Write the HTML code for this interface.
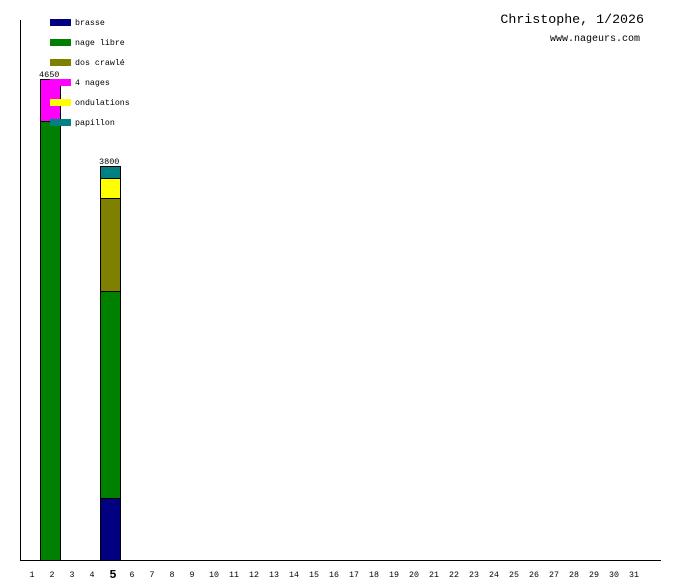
<!DOCTYPE html>
<html><head><style>body{margin:0;background:#fff}svg{display:block}text{font-family:"Liberation Mono",monospace;fill:#000}</style></head>
<body>
<svg width="680" height="580" xmlns="http://www.w3.org/2000/svg">
<rect width="680" height="580" fill="#fff"/>
<line x1="20.5" y1="20" x2="20.5" y2="561" stroke="#000"/>
<line x1="20" y1="560.5" x2="661" y2="560.5" stroke="#000"/>
<!-- bar day 2 -->
<rect x="40.5" y="79.5" width="20" height="42" fill="#ff00ff" stroke="#000"/>
<rect x="40.5" y="121.5" width="20" height="439" fill="#008000" stroke="#000"/>
<!-- bar day 5 -->
<rect x="100.5" y="166.5" width="20" height="12" fill="#008080" stroke="#000"/>
<rect x="100.5" y="178.5" width="20" height="20" fill="#ffff00" stroke="#000"/>
<rect x="100.5" y="198.5" width="20" height="93" fill="#808000" stroke="#000"/>
<rect x="100.5" y="291.5" width="20" height="207" fill="#008000" stroke="#000"/>
<rect x="100.5" y="498.5" width="20" height="62" fill="#000080" stroke="#000"/>
<g font-size="8.5">
<text x="39" y="77">4650</text>
<text x="99" y="164">3800</text>
</g>
<!-- legend -->
<g font-size="8.3">
<rect x="50" y="19" width="21" height="7" fill="#000080"/><text x="75" y="25">brasse</text>
<rect x="50" y="39" width="21" height="7" fill="#008000"/><text x="75" y="45">nage libre</text>
<rect x="50" y="59" width="21" height="7" fill="#808000"/><text x="75" y="65">dos crawlé</text>
<rect x="50" y="79" width="21" height="7" fill="#ff00ff"/><text x="75" y="85">4 nages</text>
<rect x="50" y="99" width="21" height="7" fill="#ffff00"/><text x="75" y="105">ondulations</text>
<rect x="50" y="119" width="21" height="7" fill="#008080"/><text x="75" y="125">papillon</text>
</g>
<text x="644" y="23" font-size="13.3" text-anchor="end">Christophe, 1/2026</text>
<text x="640" y="41" font-size="10" text-anchor="end">www.nageurs.com</text>
<g font-size="8.3" text-anchor="middle">
<text x="32" y="577">1</text><text x="52" y="577">2</text><text x="72" y="577">3</text><text x="92" y="577">4</text>
<text x="113" y="578" font-size="12" font-weight="bold">5</text>
<text x="132" y="577">6</text><text x="152" y="577">7</text><text x="172" y="577">8</text><text x="192" y="577">9</text>
<text x="214" y="577">10</text><text x="234" y="577">11</text><text x="254" y="577">12</text><text x="274" y="577">13</text>
<text x="294" y="577">14</text><text x="314" y="577">15</text><text x="334" y="577">16</text><text x="354" y="577">17</text>
<text x="374" y="577">18</text><text x="394" y="577">19</text><text x="414" y="577">20</text><text x="434" y="577">21</text>
<text x="454" y="577">22</text><text x="474" y="577">23</text><text x="494" y="577">24</text><text x="514" y="577">25</text>
<text x="534" y="577">26</text><text x="554" y="577">27</text><text x="574" y="577">28</text><text x="594" y="577">29</text>
<text x="614" y="577">30</text><text x="634" y="577">31</text>
</g>
</svg>
</body></html>
